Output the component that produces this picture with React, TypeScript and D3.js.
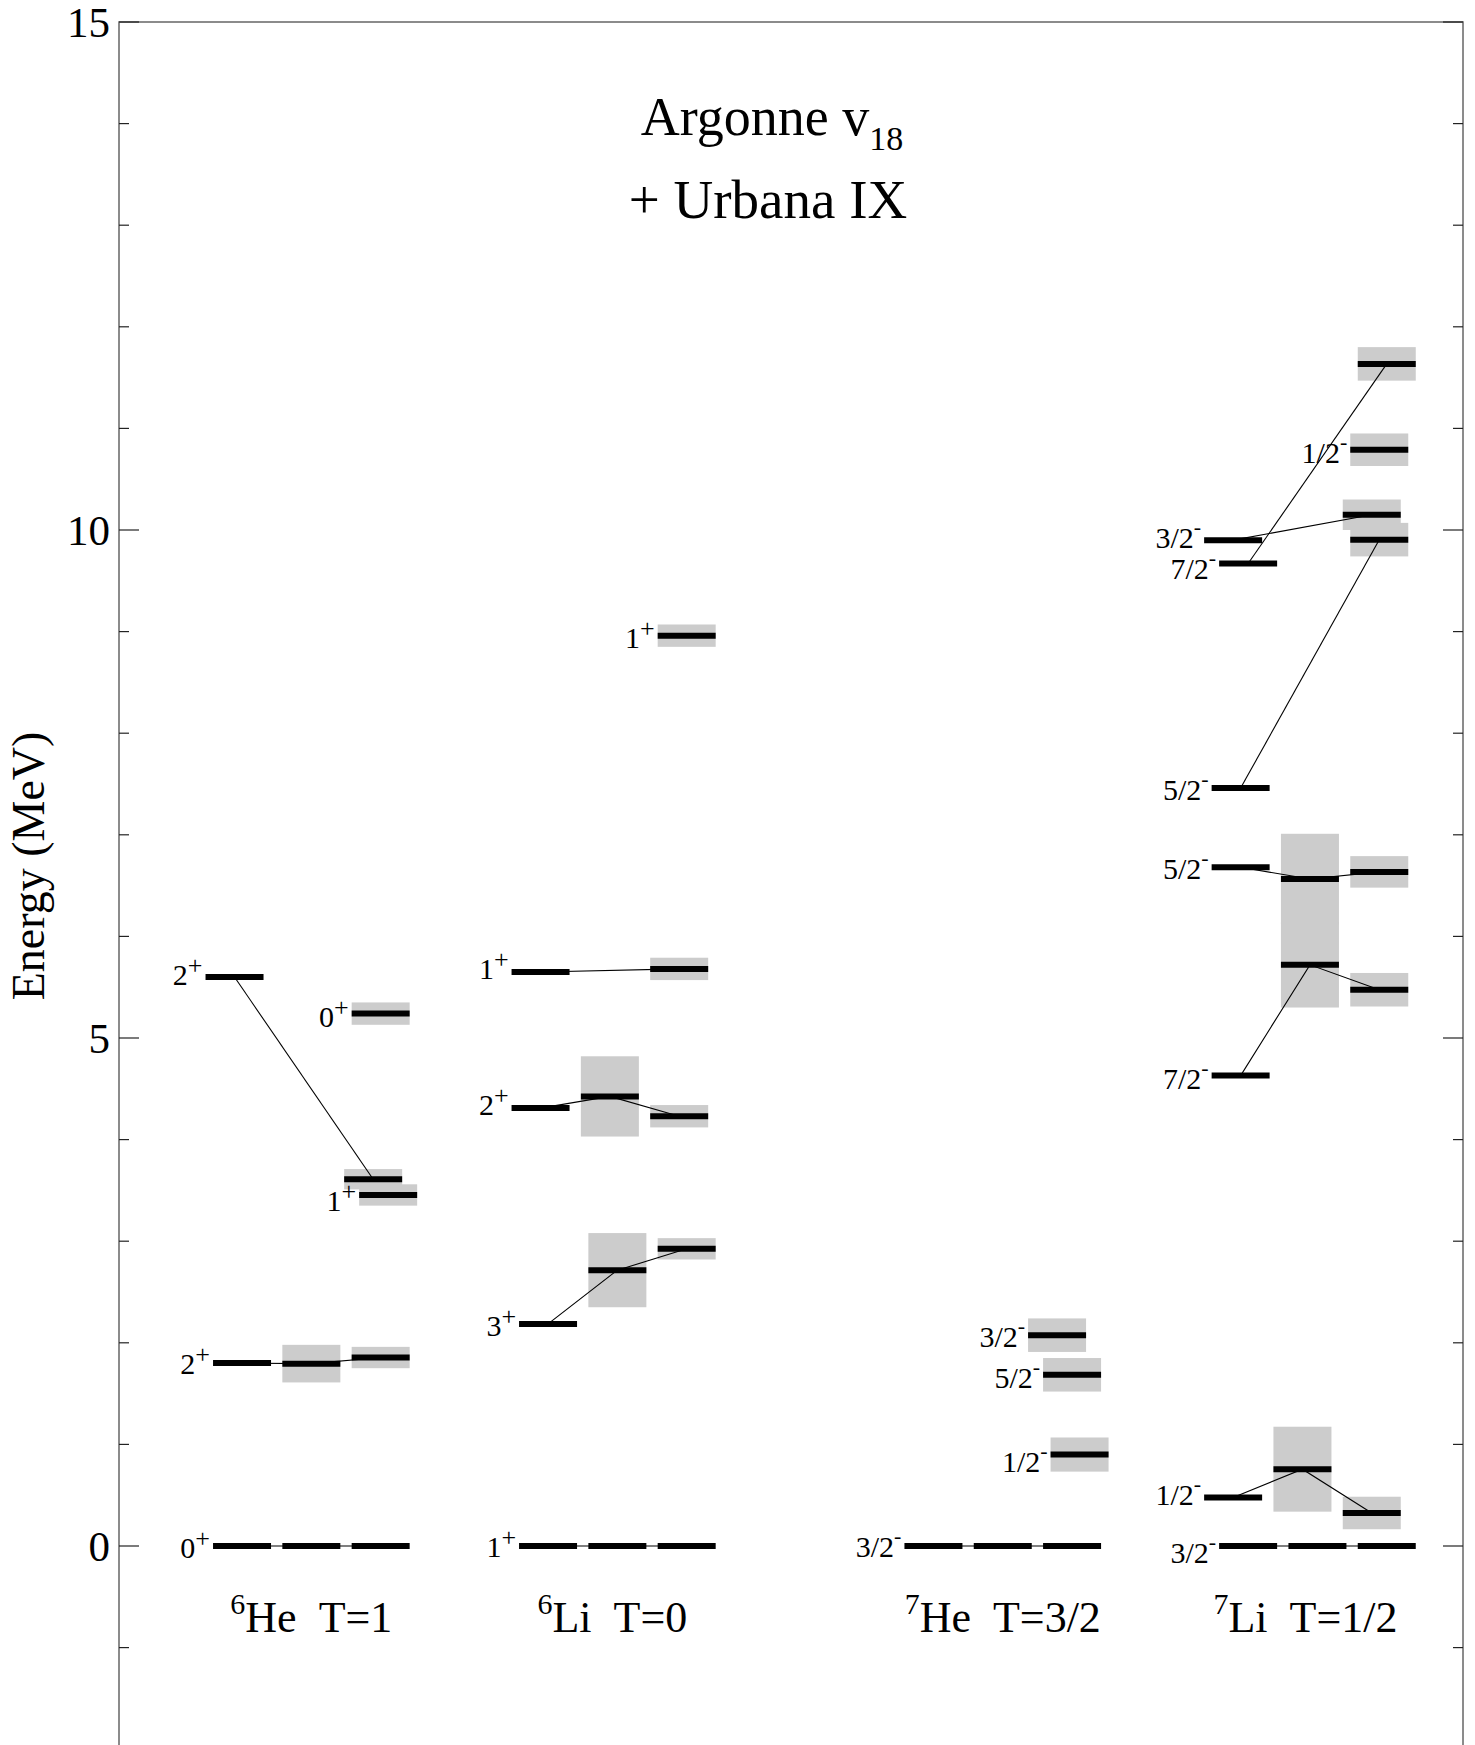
import * as d3 from "d3";

// ---- data -------------------------------------------------------------

// nuclei shown along the bottom
const massNumbers = ["6", "6", "7", "7"];
const symbols = ["He", "Li", "He", "Li"];
const isospins = ["T=1", "T=0", "T=3/2", "T=1/2"];

type State = {
  j: string; // spin
  p: string; // parity
  e: (number | null)[]; // [experiment, calc A, calc B] in MeV
  err: (number | null)[]; // half height of the grey band
};

const he6States: State[] = [
  { j: "0", p: "+", e: [0, 0, 0], err: [null, 0, 0] },
  { j: "2", p: "+", e: [1.8, 1.795, 1.855], err: [null, 0.185, 0.105] },
  { j: "2", p: "+", e: [5.6, null, 3.61], err: [null, null, 0.1] },
  { j: "0", p: "+", e: [null, null, 5.24], err: [null, null, 0.11] },
  { j: "1", p: "+", e: [null, null, 3.455], err: [null, null, 0.105] },
];

const li6States: State[] = [
  { j: "1", p: "+", e: [0, 0, 0], err: [null, 0, 0] },
  { j: "3", p: "+", e: [2.186, 2.715, 2.925], err: [null, 0.365, 0.105] },
  { j: "2", p: "+", e: [4.31, 4.425, 4.23], err: [null, 0.395, 0.11] },
  { j: "1", p: "+", e: [5.65, null, 5.68], err: [null, null, 0.11] },
  { j: "1", p: "+", e: [null, null, 8.96], err: [null, null, 0.11] },
];

const he7States: State[] = [
  { j: "3/2", p: "-", e: [0, 0, 0], err: [null, 0, 0] },
  { j: "1/2", p: "-", e: [null, null, 0.9], err: [null, null, 0.168] },
  { j: "5/2", p: "-", e: [null, null, 1.685], err: [null, null, 0.165] },
  { j: "3/2", p: "-", e: [null, null, 2.075], err: [null, null, 0.165] },
];

const li7States: State[] = [
  { j: "3/2", p: "-", e: [0, 0, 0], err: [null, 0, 0] },
  { j: "1/2", p: "-", e: [0.478, 0.756, 0.325], err: [null, 0.418, 0.16] },
  { j: "7/2", p: "-", e: [4.63, 5.72, 5.475], err: [null, 0.42, 0.165] },
  { j: "5/2", p: "-", e: [6.68, 6.565, 6.635], err: [null, 0.445, 0.155] },
  { j: "5/2", p: "-", e: [7.46, null, 9.905], err: [null, null, 0.165] },
  { j: "7/2", p: "-", e: [9.67, null, 11.635], err: [null, null, 0.165] },
  { j: "3/2", p: "-", e: [9.9, null, 10.15], err: [null, null, 0.15] },
  { j: "1/2", p: "-", e: [null, null, 10.79], err: [null, null, 0.16] },
];

const allStates = [he6States, li6States, he7States, li7States];

const yTicks = d3.range(-2, 16);
const yTickLabels = [0, 5, 10, 15];

// ---- layout -----------------------------------------------------------

const W = 1475;
const H = 1745;
const left = 119;
const right = 1463;
const top = 22;

// column-unit position of each nucleus' first column
const groupStart = [1.775, 6.19, 11.75, 16.29];
// horizontal nudge of each state (in steps of 7.5px) to keep labels apart
const stateShift = [
  [0, 0, -1, 0, 1],
  [0, 0, -1, -1, 0],
  [0, 1, 0, -2],
  [0, -2, -1, -1, -1, 0, -2, -1],
];
// baseline of the level label below the level
const labelDrop = [
  [12, 11, 8, 13, 16],
  [11, 12, 7, 7, 12],
  [11, 17, 13, 12],
  [17, 8, 13, 12, 12, 15, 8, 13],
];
const groupLabelDx = [0, -5, 0, -12];

const barW = 58;
const font = "'Liberation Serif', 'Times New Roman', Times, serif";

const x = d3.scaleLinear().domain([0, 19.39]).range([left, right]);
const y = d3.scaleLinear().domain([-2, 15]).range([top + 17 * 101.6, top]);

export default function App() {
  const line = d3.line<[number, number]>();
  const boxes: JSX.Element[] = [];
  const links: JSX.Element[] = [];
  const bars: JSX.Element[] = [];
  const labels: JSX.Element[] = [];

  allStates.forEach((states, g) => {
    states.forEach((s, i) => {
      const shift = stateShift[g][i] * 7.5;
      const pts: [number, number][] = [];
      s.e.forEach((e, c) => {
        if (e === null) return;
        const cx = x(groupStart[g] + c) + shift;
        pts.push([cx, y(e)]);
        const err = s.err[c];
        if (err) {
          boxes.push(
            <rect
              key={`b${g}-${i}-${c}`}
              x={cx - barW / 2}
              y={y(e + err)}
              width={barW}
              height={y(e - err) - y(e + err)}
              fill="#cccccc"
            />
          );
        }
        bars.push(
          <line
            key={`l${g}-${i}-${c}`}
            x1={cx - barW / 2}
            x2={cx + barW / 2}
            y1={y(e)}
            y2={y(e)}
            stroke="#000"
            strokeWidth={6}
          />
        );
      });
      if (pts.length > 1) {
        links.push(
          <path key={`k${g}-${i}`} d={line(pts) ?? ""} fill="none" stroke="#000" strokeWidth={1.1} />
        );
      }
      const [lx, ly] = pts[0];
      const plus = s.p === "+";
      labels.push(
        <text
          key={`t${g}-${i}`}
          x={lx - barW / 2 - 3}
          y={ly + labelDrop[g][i]}
          textAnchor="end"
          fontSize={30}
        >
          {s.j}
          <tspan fontSize={plus ? 26 : 22} dy={plus ? -11 : -14}>
            {s.p}
          </tspan>
        </text>
      );
    });
  });

  const bottom = y(-2);

  return (
    <svg
      width={W}
      height={H}
      style={{ position: "absolute", left: 0, top: 0, background: "#fff" }}
      fontFamily={font}
    >
      <rect x={0} y={0} width={W} height={H} fill="#fff" />

      {/* frame and ticks */}
      <rect x={left} y={top} width={right - left} height={bottom - top} fill="none" stroke="#666" strokeWidth={1.5} />
      {yTicks.map((t) => {
        const len = t % 5 === 0 ? 20 : 10;
        return (
          <g key={t} stroke="#222" strokeWidth={1.2}>
            <line x1={left} x2={left + len} y1={y(t)} y2={y(t)} />
            <line x1={right - len} x2={right} y1={y(t)} y2={y(t)} />
          </g>
        );
      })}
      {yTickLabels.map((t) => (
        <text key={t} x={110} y={y(t) + 15} textAnchor="end" fontSize={43}>
          {t}
        </text>
      ))}
      <text transform={`translate(44,866) rotate(-90)`} textAnchor="middle" fontSize={46}>
        Energy (MeV)
      </text>

      {/* title */}
      <text x={772} y={135} textAnchor="middle" fontSize={54}>
        Argonne v
        <tspan fontSize={34} dy={15}>
          18
        </tspan>
      </text>
      <text x={768} y={218} textAnchor="middle" fontSize={55}>
        + Urbana IX
      </text>

      {boxes}
      {links}
      {bars}
      {labels}

      {/* nucleus names */}
      {massNumbers.map((a, g) => (
        <text
          key={g}
          x={x(groupStart[g] + 1) + groupLabelDx[g]}
          y={1632}
          textAnchor="middle"
          fontSize={44}
        >
          <tspan fontSize={30} dy={-18}>
            {a}
          </tspan>
          <tspan dy={18}>{symbols[g]}</tspan>
          {"\u00a0\u00a0" + isospins[g]}
        </text>
      ))}
    </svg>
  );
}
